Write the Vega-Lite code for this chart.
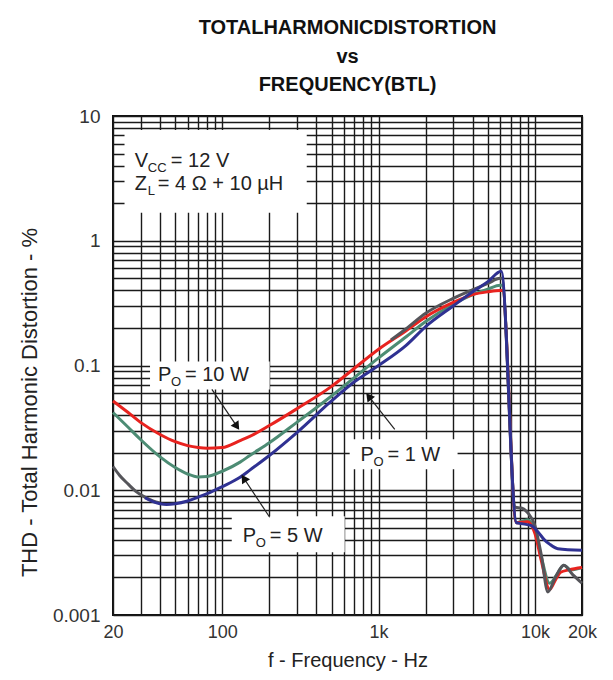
{
  "$schema": "https://vega.github.io/schema/vega-lite/v6.json",
  "width": 469,
  "height": 499,
  "autosize": "none",
  "padding": {"left": 113, "top": 116, "right": 31, "bottom": 65},
  "background": "white",
  "title": {
    "text": ["TOTALHARMONICDISTORTION", "vs", "FREQUENCY(BTL)"],
    "font": "Liberation Sans",
    "fontSize": 20,
    "fontWeight": "bold",
    "lineHeight": 28.5,
    "anchor": "middle",
    "frame": "group",
    "offset": 12,
    "color": "#111"
  },
  "config": {
    "view": {"stroke": "#111", "strokeWidth": 2},
    "text": {"font": "Liberation Sans", "color": "#222"},
    "axis": {
      "grid": true, "gridColor": "#1a1a1a", "gridWidth": 1.4, "gridOpacity": 1,
      "ticks": false, "domain": false,
      "labelFont": "Liberation Sans", "labelColor": "#333",
      "labelFlush": false, "labelOverlap": false,
      "titleFont": "Liberation Sans", "titleFontWeight": "normal",
      "titleColor": "#222"
    }
  },
  "datasets": {
    "curves": [
      {"f": 20, "thd": 0.0155, "curve": "gray-lo"},
      {"f": 22, "thd": 0.0132, "curve": "gray-lo"},
      {"f": 25, "thd": 0.0112, "curve": "gray-lo"},
      {"f": 28, "thd": 0.0098, "curve": "gray-lo"},
      {"f": 32, "thd": 0.0088, "curve": "gray-lo"},
      {"f": 36, "thd": 0.0082, "curve": "gray-lo"},
      {"f": 40, "thd": 0.0079, "curve": "gray-lo"},

      {"f": 20, "thd": 0.042, "curve": "1 W"},
      {"f": 25, "thd": 0.032, "curve": "1 W"},
      {"f": 30, "thd": 0.0255, "curve": "1 W"},
      {"f": 40, "thd": 0.0185, "curve": "1 W"},
      {"f": 50, "thd": 0.0152, "curve": "1 W"},
      {"f": 60, "thd": 0.0135, "curve": "1 W"},
      {"f": 70, "thd": 0.0128, "curve": "1 W"},
      {"f": 80, "thd": 0.0129, "curve": "1 W"},
      {"f": 100, "thd": 0.0142, "curve": "1 W"},
      {"f": 130, "thd": 0.0168, "curve": "1 W"},
      {"f": 150, "thd": 0.019, "curve": "1 W"},
      {"f": 200, "thd": 0.024, "curve": "1 W"},
      {"f": 300, "thd": 0.035, "curve": "1 W"},
      {"f": 500, "thd": 0.057, "curve": "1 W"},
      {"f": 700, "thd": 0.08, "curve": "1 W"},
      {"f": 1000, "thd": 0.115, "curve": "1 W"},
      {"f": 1500, "thd": 0.17, "curve": "1 W"},
      {"f": 2000, "thd": 0.225, "curve": "1 W"},
      {"f": 3000, "thd": 0.31, "curve": "1 W"},
      {"f": 4000, "thd": 0.37, "curve": "1 W"},
      {"f": 5000, "thd": 0.41, "curve": "1 W"},
      {"f": 6000, "thd": 0.44, "curve": "1 W"},
      {"f": 6165, "thd": 0.44, "curve": "1 W"},
      {"f": 7600, "thd": 0.0055, "curve": "1 W"},
      {"f": 9000, "thd": 0.0058, "curve": "1 W"},
      {"f": 10000, "thd": 0.0047, "curve": "1 W"},
      {"f": 11000, "thd": 0.0029, "curve": "1 W"},
      {"f": 12400, "thd": 0.0018, "curve": "1 W"},
      {"f": 13800, "thd": 0.0021, "curve": "1 W"},
      {"f": 15300, "thd": 0.0025, "curve": "1 W"},
      {"f": 17000, "thd": 0.0023, "curve": "1 W"},
      {"f": 20000, "thd": 0.0024, "curve": "1 W"},

      {"f": 20, "thd": 0.052, "curve": "10 W"},
      {"f": 25, "thd": 0.042, "curve": "10 W"},
      {"f": 30, "thd": 0.035, "curve": "10 W"},
      {"f": 40, "thd": 0.028, "curve": "10 W"},
      {"f": 50, "thd": 0.0245, "curve": "10 W"},
      {"f": 60, "thd": 0.0228, "curve": "10 W"},
      {"f": 70, "thd": 0.022, "curve": "10 W"},
      {"f": 80, "thd": 0.0217, "curve": "10 W"},
      {"f": 100, "thd": 0.022, "curve": "10 W"},
      {"f": 130, "thd": 0.025, "curve": "10 W"},
      {"f": 150, "thd": 0.027, "curve": "10 W"},
      {"f": 200, "thd": 0.033, "curve": "10 W"},
      {"f": 300, "thd": 0.045, "curve": "10 W"},
      {"f": 500, "thd": 0.068, "curve": "10 W"},
      {"f": 700, "thd": 0.095, "curve": "10 W"},
      {"f": 1000, "thd": 0.135, "curve": "10 W"},
      {"f": 1500, "thd": 0.19, "curve": "10 W"},
      {"f": 2000, "thd": 0.245, "curve": "10 W"},
      {"f": 3000, "thd": 0.32, "curve": "10 W"},
      {"f": 4000, "thd": 0.37, "curve": "10 W"},
      {"f": 5000, "thd": 0.39, "curve": "10 W"},
      {"f": 6000, "thd": 0.4, "curve": "10 W"},
      {"f": 6190, "thd": 0.4, "curve": "10 W"},
      {"f": 7600, "thd": 0.0055, "curve": "10 W"},
      {"f": 9000, "thd": 0.0056, "curve": "10 W"},
      {"f": 10000, "thd": 0.0045, "curve": "10 W"},
      {"f": 11000, "thd": 0.0027, "curve": "10 W"},
      {"f": 12400, "thd": 0.0016, "curve": "10 W"},
      {"f": 13500, "thd": 0.0019, "curve": "10 W"},
      {"f": 14600, "thd": 0.0022, "curve": "10 W"},
      {"f": 16500, "thd": 0.0023, "curve": "10 W"},
      {"f": 20000, "thd": 0.0024, "curve": "10 W"},

      {"f": 1200, "thd": 0.16, "curve": "gray-hi"},
      {"f": 1500, "thd": 0.197, "curve": "gray-hi"},
      {"f": 2000, "thd": 0.262, "curve": "gray-hi"},
      {"f": 3000, "thd": 0.345, "curve": "gray-hi"},
      {"f": 4000, "thd": 0.405, "curve": "gray-hi"},
      {"f": 5000, "thd": 0.455, "curve": "gray-hi"},
      {"f": 6000, "thd": 0.5, "curve": "gray-hi"},
      {"f": 6130, "thd": 0.5, "curve": "gray-hi"},
      {"f": 7500, "thd": 0.0073, "curve": "gray-hi"},
      {"f": 8200, "thd": 0.0072, "curve": "gray-hi"},
      {"f": 9000, "thd": 0.0066, "curve": "gray-hi"},
      {"f": 10000, "thd": 0.0052, "curve": "gray-hi"},
      {"f": 11000, "thd": 0.003, "curve": "gray-hi"},
      {"f": 12100, "thd": 0.00153, "curve": "gray-hi"},
      {"f": 13500, "thd": 0.002, "curve": "gray-hi"},
      {"f": 15300, "thd": 0.0025, "curve": "gray-hi"},
      {"f": 17500, "thd": 0.0021, "curve": "gray-hi"},
      {"f": 20000, "thd": 0.0018, "curve": "gray-hi"},

      {"f": 32, "thd": 0.0087, "curve": "5 W"},
      {"f": 36, "thd": 0.0081, "curve": "5 W"},
      {"f": 40, "thd": 0.0078, "curve": "5 W"},
      {"f": 44, "thd": 0.0077, "curve": "5 W"},
      {"f": 50, "thd": 0.0078, "curve": "5 W"},
      {"f": 60, "thd": 0.0082, "curve": "5 W"},
      {"f": 70, "thd": 0.0088, "curve": "5 W"},
      {"f": 80, "thd": 0.0094, "curve": "5 W"},
      {"f": 100, "thd": 0.0107, "curve": "5 W"},
      {"f": 130, "thd": 0.0127, "curve": "5 W"},
      {"f": 150, "thd": 0.0145, "curve": "5 W"},
      {"f": 200, "thd": 0.019, "curve": "5 W"},
      {"f": 300, "thd": 0.029, "curve": "5 W"},
      {"f": 500, "thd": 0.052, "curve": "5 W"},
      {"f": 700, "thd": 0.074, "curve": "5 W"},
      {"f": 1000, "thd": 0.1, "curve": "5 W"},
      {"f": 1500, "thd": 0.145, "curve": "5 W"},
      {"f": 2000, "thd": 0.205, "curve": "5 W"},
      {"f": 3000, "thd": 0.3, "curve": "5 W"},
      {"f": 4000, "thd": 0.39, "curve": "5 W"},
      {"f": 5000, "thd": 0.47, "curve": "5 W"},
      {"f": 6090, "thd": 0.57, "curve": "5 W"},
      {"f": 7600, "thd": 0.0055, "curve": "5 W"},
      {"f": 8200, "thd": 0.0054, "curve": "5 W"},
      {"f": 9500, "thd": 0.0052, "curve": "5 W"},
      {"f": 10500, "thd": 0.0046, "curve": "5 W"},
      {"f": 11500, "thd": 0.004, "curve": "5 W"},
      {"f": 12400, "thd": 0.0037, "curve": "5 W"},
      {"f": 14000, "thd": 0.0034, "curve": "5 W"},
      {"f": 20000, "thd": 0.0033, "curve": "5 W"}
    ],
    "boxes": [
      {"f1": 23.7, "f2": 347, "v1": 1.675, "v2": 7.73},
      {"f1": 34.5, "f2": 201, "v1": 0.0643, "v2": 0.1076},
      {"f1": 653, "f2": 3200, "v1": 0.01472, "v2": 0.0256},
      {"f1": 115, "f2": 607, "v1": 0.00319, "v2": 0.0062}
    ],
    "arrows": [
      {"f1": 85.8, "v1": 0.0643, "f2": 124, "v2": 0.0325},
      {"f1": 1268, "v1": 0.0308, "f2": 865, "v2": 0.0565},
      {"f1": 201, "v1": 0.00608, "f2": 137.4, "v2": 0.01247}
    ],
    "heads": [
      {"f": 124, "thd": 0.0325, "arrow": "10 W"},
      {"f": 865, "thd": 0.0565, "arrow": "1 W"},
      {"f": 137.4, "thd": 0.01247, "arrow": "5 W"}
    ],
    "labels": [
      {"f": 27.6, "thd": 3.93, "main": "V", "sub": "CC", "rest": "= 12 V"},
      {"f": 27.6, "thd": 2.56, "main": "Z", "sub": "L", "rest": "= 4 Ω + 10 µH"},
      {"f": 38.8, "thd": 0.0749, "main": "P", "sub": "O", "rest": "= 10 W"},
      {"f": 765, "thd": 0.01715, "main": "P", "sub": "O", "rest": "= 1 W"},
      {"f": 135.4, "thd": 0.00384, "main": "P", "sub": "O", "rest": "= 5 W"}
    ]
  },
  "encoding": {
    "x": {
      "field": "f", "type": "quantitative",
      "scale": {"type": "log", "domain": [20, 20000], "nice": false},
      "axis": {
        "values": [20, 30, 40, 50, 60, 70, 80, 90, 100, 200, 300, 400, 500, 600, 700, 800, 900, 1000, 2000, 3000, 4000, 5000, 6000, 7000, 8000, 9000, 10000, 20000],
        "labelExpr": "datum.value == 20 ? '20' : datum.value == 100 ? '100' : datum.value == 1000 ? '1k' : datum.value == 10000 ? '10k' : datum.value == 20000 ? '20k' : ''",
        "title": "f - Frequency - Hz",
        "labelFontSize": 18,
        "titleFontSize": 20,
        "labelPadding": 8,
        "titlePadding": 9
      }
    },
    "y": {
      "field": "thd", "type": "quantitative",
      "scale": {"type": "log", "domain": [0.001, 10], "nice": false},
      "axis": {
        "values": [0.001, 0.002, 0.003, 0.004, 0.005, 0.006, 0.007, 0.008, 0.009, 0.01, 0.02, 0.03, 0.04, 0.05, 0.06, 0.07, 0.08, 0.09, 0.1, 0.2, 0.3, 0.4, 0.5, 0.6, 0.7, 0.8, 0.9, 1, 2, 3, 4, 5, 6, 7, 8, 9, 10],
        "labelExpr": "datum.value == 10 ? '10' : datum.value == 1 ? '1' : datum.value == 0.1 ? '0.1' : datum.value == 0.01 ? '0.01' : datum.value == 0.001 ? '0.001' : ''",
        "title": "THD - Total Harmonic Distortion - %",
        "labelFontSize": 19,
        "titleFontSize": 22,
        "titleY": 286,
        "labelPadding": 13,
        "titlePadding": 11
      }
    }
  },
  "layer": [
    {
      "data": {"name": "curves"},
      "transform": [{"filter": "datum.curve == 'gray-lo'"}],
      "mark": {"type": "line", "strokeWidth": 3, "interpolate": "monotone", "color": "#55555a"}
    },
    {
      "data": {"name": "boxes"},
      "mark": {"type": "rect", "color": "white"},
      "encoding": {
        "x": {"field": "f1", "type": "quantitative"},
        "x2": {"field": "f2"},
        "y": {"field": "v1", "type": "quantitative"},
        "y2": {"field": "v2"}
      }
    },
    {
      "data": {"name": "curves"},
      "transform": [{"filter": "datum.curve == '1 W'"}],
      "mark": {"type": "line", "strokeWidth": 3, "interpolate": "monotone", "color": "#4d8c74"}
    },
    {
      "data": {"name": "curves"},
      "transform": [{"filter": "datum.curve == '10 W'"}],
      "mark": {"type": "line", "strokeWidth": 3, "interpolate": "monotone", "color": "#e8231f"}
    },
    {
      "data": {"name": "curves"},
      "transform": [{"filter": "datum.curve == 'gray-hi'"}],
      "mark": {"type": "line", "strokeWidth": 3, "interpolate": "monotone", "color": "#55555a"}
    },
    {
      "data": {"name": "curves"},
      "transform": [{"filter": "datum.curve == '5 W'"}],
      "mark": {"type": "line", "strokeWidth": 3, "interpolate": "monotone", "color": "#2f3192"}
    },
    {
      "data": {"name": "arrows"},
      "mark": {"type": "rule", "color": "#222", "strokeWidth": 1.2},
      "encoding": {
        "x": {"field": "f1", "type": "quantitative"},
        "x2": {"field": "f2"},
        "y": {"field": "v1", "type": "quantitative"},
        "y2": {"field": "v2"}
      }
    },
    {
      "data": {"name": "heads"},
      "transform": [{"filter": "datum.arrow == '10 W'"}],
      "mark": {"type": "point", "shape": "triangle-up", "filled": true, "color": "#111", "size": 90, "opacity": 1, "angle": 146}
    },
    {
      "data": {"name": "heads"},
      "transform": [{"filter": "datum.arrow == '1 W'"}],
      "mark": {"type": "point", "shape": "triangle-up", "filled": true, "color": "#111", "size": 90, "opacity": 1, "angle": 322}
    },
    {
      "data": {"name": "heads"},
      "transform": [{"filter": "datum.arrow == '5 W'"}],
      "mark": {"type": "point", "shape": "triangle-up", "filled": true, "color": "#111", "size": 90, "opacity": 1, "angle": 327}
    },
    {
      "data": {"name": "labels"},
      "mark": {"type": "text", "align": "left", "baseline": "alphabetic", "fontSize": 20, "color": "#222"},
      "encoding": {"text": {"field": "main"}}
    },
    {
      "data": {"name": "labels"},
      "mark": {"type": "text", "align": "left", "baseline": "alphabetic", "fontSize": 13, "dx": 13, "dy": 5, "color": "#222"},
      "encoding": {"text": {"field": "sub"}}
    },
    {
      "data": {"name": "labels"},
      "transform": [{"filter": "datum.main == 'V'"}],
      "mark": {"type": "text", "align": "left", "baseline": "alphabetic", "fontSize": 20, "dx": 36, "color": "#222"},
      "encoding": {"text": {"field": "rest"}}
    },
    {
      "data": {"name": "labels"},
      "transform": [{"filter": "datum.main == 'Z'"}],
      "mark": {"type": "text", "align": "left", "baseline": "alphabetic", "fontSize": 20, "dx": 23, "color": "#222"},
      "encoding": {"text": {"field": "rest"}}
    },
    {
      "data": {"name": "labels"},
      "transform": [{"filter": "datum.main == 'P'"}],
      "mark": {"type": "text", "align": "left", "baseline": "alphabetic", "fontSize": 20, "dx": 27, "color": "#222"},
      "encoding": {"text": {"field": "rest"}}
    }
  ]
}
